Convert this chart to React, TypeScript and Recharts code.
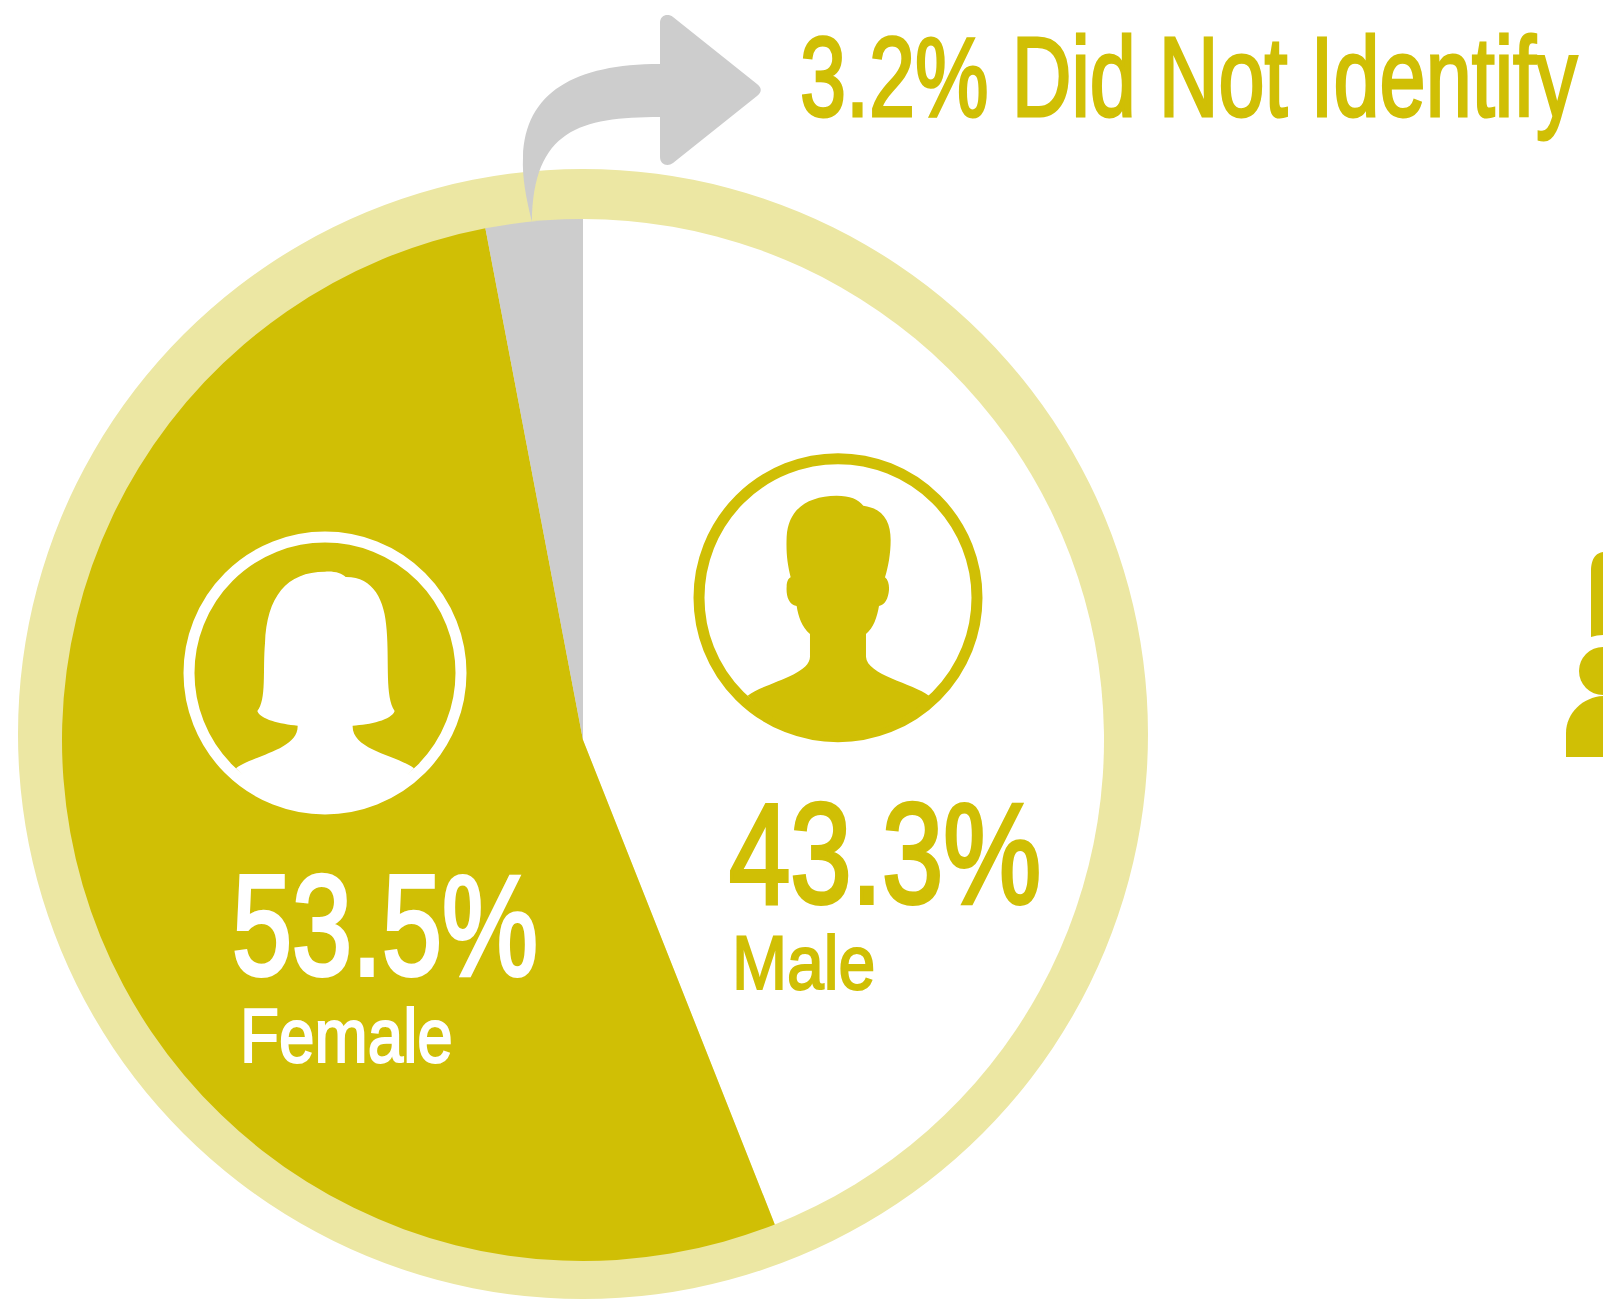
import React from 'react';
import { PieChart, Pie, Cell } from 'recharts';

const OLIVE = '#D0BF05';
const PALE = '#ECE7A3';
const GREY = '#CDCDCD';
const FONT = '"Liberation Sans", sans-serif';

const categories = ['Male', 'Female', 'Did Not Identify'];
// labels printed in the picture
const printedShares = ['43.3%', '53.5%', '3.2%'];
// wedge sizes as they are actually drawn (measured off the arcs, differ a little from the printed labels)
const drawnShares = [44, 53, 3];
const sliceColors = ['#FFFFFF', OLIVE, GREY];

const sliceData = categories.map((name, i) => ({ name, value: drawnShares[i] }));
const ringData = [{ name: 'All respondents', value: 100 }];

const femalePath = 'M198 745C250 705 385 690 383 617C330 612 270 598 262 573C290 540 278 450 285 370C290 230 350 155 465 155C495 153 515 160 527 171C610 170 645 240 650 330C658 430 645 530 674 573C665 600 600 614 548 617C545 690 680 705 732 745A350 350 0 0 1 198 745Z';
const malePath = 'M203 767C250 730 390 705 390 650L390 582C365 560 355 530 350 498C325 495 318 465 320 440C320 425 325 415 332 412C322 370 318 340 320 290C325 205 385 168 470 167C510 167 535 178 550 197C610 205 632 245 632 300C632 340 625 380 615 412C625 420 628 435 627 450C625 475 615 495 597 498C592 530 580 565 558 582L558 650C560 705 700 730 747 767A360 360 0 0 1 203 767Z';
const arrowPath = 'M532 222C526 198 522 177 523 157C525 92 575 64 660 64L660 23C660 15 668 13 673 17L757 84C762 88 762 92 757 96L673 163C668 167 660 165 660 157L660 117C580 117 533 130 532 222Z';

function Label({ x, y, sx, size, fill, thick, children }: any) {
  return (
    <text transform={`translate(${x} ${y}) scale(${sx} 1)`} fontSize={size} fill={fill} stroke={fill} strokeWidth={thick} fontFamily={FONT}>
      {children}
    </text>
  );
}

export default function App() {
  return (
    <div style={{ position: 'absolute', left: 0, top: 0, width: 1603, height: 1303, background: '#fff', overflow: 'hidden' }}>
      <PieChart width={1603} height={1303} margin={{ top: 0, right: 0, bottom: 0, left: 0 }}>
        <Pie data={ringData} dataKey="value" cx={583} cy={734} outerRadius={565} startAngle={90} endAngle={-270} stroke="none" fill={PALE} isAnimationActive={false} />
        <Pie data={sliceData} dataKey="value" cx={583} cy={740} outerRadius={521} startAngle={90} endAngle={-270} stroke="none" isAnimationActive={false}>
          {sliceData.map((d, i) => <Cell key={d.name} fill={sliceColors[i]} />)}
        </Pie>
      </PieChart>

      <svg width={1603} height={1303} style={{ position: 'absolute', left: 0, top: 0 }}>
        <path d={arrowPath} fill={GREY} />

        <circle cx={325} cy={673} r={136} fill="none" stroke="#fff" strokeWidth={11} />
        <g transform="translate(170 520) scale(0.3333)">
          <path d={femalePath} fill="#fff" />
        </g>

        <circle cx={838} cy={597.7} r={139} fill="none" stroke={OLIVE} strokeWidth={11} />
        <g transform="translate(680 440) scale(0.3333)">
          <path d={malePath} fill={OLIVE} />
        </g>

        {/* part of the next figure, cut off by the edge */}
        <path d="M1591 637L1591 572C1591 557 1597 553 1603 552L1603 635Q1597 635 1591 637Z" fill={OLIVE} />
        <circle cx={1603} cy={671} r={24} fill={OLIVE} />
        <path d="M1566 757L1566 733C1566 713 1583 697 1603 696L1603 757Z" fill={OLIVE} />

        <Label x={800} y={116} sx={0.726} size={114} fill={OLIVE} thick={3}>{`${printedShares[2]} ${categories[2]}`}</Label>
        <Label x={232} y={975} sx={0.755} size={143} fill="#fff" thick={4}>{printedShares[1]}</Label>
        <Label x={240} y={1062} sx={0.84} size={76} fill="#fff" thick={2}>{categories[1]}</Label>
        <Label x={729} y={903} sx={0.77} size={143} fill={OLIVE} thick={4}>{printedShares[0]}</Label>
        <Label x={732} y={989} sx={0.87} size={76} fill={OLIVE} thick={2}>{categories[0]}</Label>
      </svg>
    </div>
  );
}
